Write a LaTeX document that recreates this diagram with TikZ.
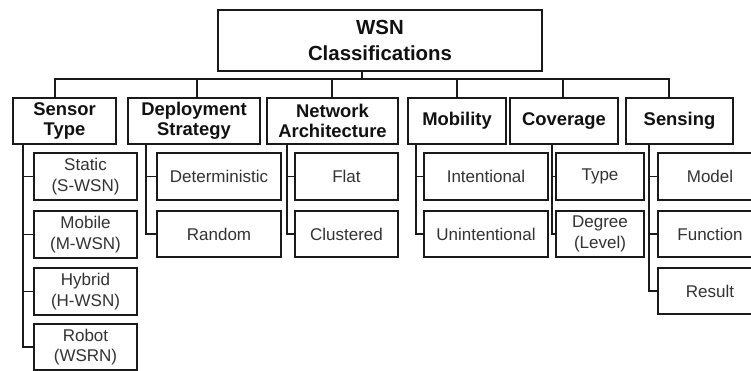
\documentclass[tikz,border=0pt]{standalone}
\usepackage{fontspec}
\setmainfont{Liberation Sans}
\definecolor{linec}{HTML}{1A1A1A}
\definecolor{leafc}{HTML}{333333}
\definecolor{headc}{HTML}{111111}
% box from (x1,y1) to (x2,y2), y measured downwards
\newcommand\boxat[7]{%
  \node[box,#6,minimum width={#4-#2},minimum height={#5-#3}] (#1)
    at ({(#2+#4)/2},{(#3+#5)/2}) {#7};}
\begin{document}
\begin{tikzpicture}[x=1pt,y=-1pt,
  box/.style={draw=linec,line width=1.6pt,inner sep=0pt,align=center,fill=white},
  rootbox/.style={font=\bfseries\fontsize{20.4}{26}\selectfont,text=headc},
  catbox/.style={font=\bfseries\fontsize{18.4}{20.5}\selectfont,text=headc},
  leafbox/.style={font=\fontsize{17}{20.5}\selectfont,text=leafc},
  link/.style={draw=linec,line width=1.6pt}]
\useasboundingbox (0,0) rectangle (751,371);

% root
\boxat{root}{218}{10}{542}{71}{rootbox}{WSN\\Classifications}

% categories
\boxat{st}{13}{98}{116}{144}{catbox}{Sensor\\Type}
\boxat{ds}{128}{98}{260}{144}{catbox}{Deployment\\Strategy}
\boxat{na}{267}{98}{398}{144}{catbox}{Network\\Architecture}
\boxat{mo}{408}{98}{506}{144}{catbox}{Mobility}
\boxat{co}{510}{98}{618}{144}{catbox}{Coverage}
\boxat{se}{626}{98}{733}{144}{catbox}{Sensing}

% leaves
\boxat{st1}{34}{153}{137}{200}{leafbox}{Static\\(S-WSN)}
\boxat{st2}{34}{211}{137}{258}{leafbox}{Mobile\\(M-WSN)}
\boxat{st3}{34}{268}{137}{315}{leafbox}{Hybrid\\(H-WSN)}
\boxat{st4}{34}{324}{137}{370}{leafbox}{Robot\\(WSRN)}

\boxat{ds1}{157}{153}{281}{200}{leafbox}{Deterministic}
\boxat{ds2}{157}{211}{281}{257}{leafbox}{Random}

\boxat{na1}{295}{153}{398}{200}{leafbox}{Flat}
\boxat{na2}{295}{211}{398}{257}{leafbox}{Clustered}

\boxat{mo1}{424}{153}{548}{200}{leafbox}{Intentional}
\boxat{mo2}{424}{211}{548}{257}{leafbox}{Unintentional}

\boxat{co1}{556}{153}{644}{200}{leafbox}{Type}
\boxat{co2}{556}{211}{644}{257}{leafbox}{Degree\\(Level)}

\boxat{se1}{658}{153}{762}{200}{leafbox}{Model}
\boxat{se2}{658}{211}{762}{257}{leafbox}{Function}
\boxat{se3}{658}{268}{762}{314}{leafbox}{Result}

% bus under the root
\coordinate (stem) at (362,0);
\coordinate (bus) at (0,79);
\draw[link] (stem |- root.south) -- (stem |- bus);
\coordinate (d1) at (55,0);
\coordinate (d2) at (197,0);
\coordinate (d3) at (332,0);
\coordinate (d4) at (457,0);
\coordinate (d5) at (563,0);
\coordinate (d6) at (669,0);
\draw[link] (d1 |- st.north) -- (d1 |- bus) -- (d6 |- bus) -- (d6 |- se.north);
\draw[link] (d2 |- bus) -- (d2 |- ds.north);
\draw[link] (d3 |- bus) -- (d3 |- na.north);
\draw[link] (d4 |- bus) -- (d4 |- mo.north);
\draw[link] (d5 |- bus) -- (d5 |- co.north);

% branch lines to the leaves
\coordinate (vst) at (23,0);
\coordinate (vds) at (146,0);
\coordinate (vna) at (287,0);
\coordinate (vmo) at (416,0);
\coordinate (vco) at (552,0);
\coordinate (vse) at (649,0);
\draw[link] (vst |- st.south) -- (vst |- st4.west) -- (st4.west);
\foreach \c in {st1,st2,st3} \draw[link] (vst |- \c.west) -- (\c.west);
\draw[link] (vds |- ds.south) -- (vds |- ds2.west) -- (ds2.west);
\draw[link] (vds |- ds1.west) -- (ds1.west);
\draw[link] (vna |- na.south) -- (vna |- na2.west) -- (na2.west);
\draw[link] (vna |- na1.west) -- (na1.west);
\draw[link] (vmo |- mo.south) -- (vmo |- mo2.west) -- (mo2.west);
\draw[link] (vmo |- mo1.west) -- (mo1.west);
\draw[link] (vco |- co.south) -- (vco |- co2.west) -- (co2.west);
\draw[link] (vco |- co1.west) -- (co1.west);
\draw[link] (vse |- se.south) -- (vse |- se3.west) -- (se3.west);
\foreach \c in {se1,se2} \draw[link] (vse |- \c.west) -- (\c.west);
\end{tikzpicture}
\end{document}
